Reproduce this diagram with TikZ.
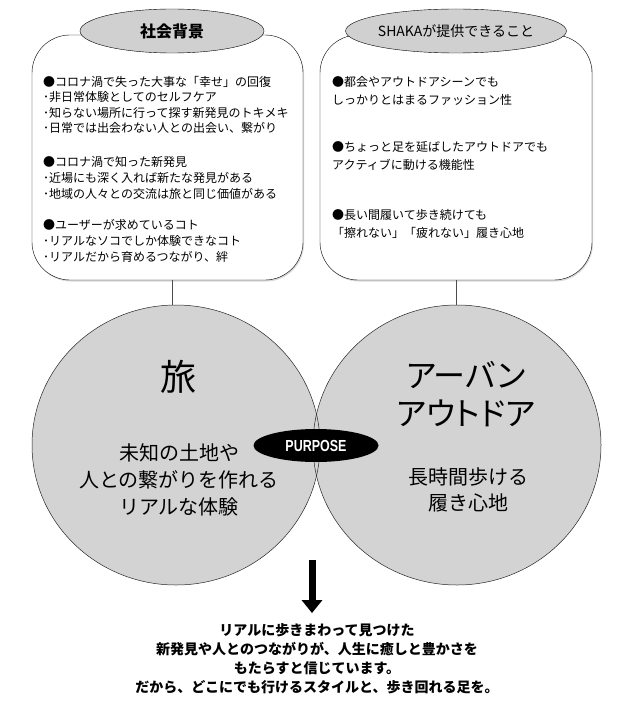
\documentclass[tikz,border=0pt]{standalone}
\usepackage{fontspec}
\setmainfont{Noto Sans CJK JP}
\newfontfamily\propfont[RawFeature=+palt]{Noto Sans CJK JP}
\newfontfamily\condfont[FakeStretch=0.78]{Liberation Sans}
\usetikzlibrary{shapes.geometric,shadows,arrows.meta}

\definecolor{vennfill}{HTML}{D3D3D3}
\definecolor{ovalfill}{HTML}{D0D0D0}

\begin{document}
\begin{tikzpicture}[x=1pt, y=-1pt, thin,
  infobox/.style={draw=black, fill=white, rounded corners=38pt, minimum height=245pt, inner sep=0pt,
    drop shadow={shadow xshift=1pt, shadow yshift=-1.5pt, opacity=0.3}},
  titleoval/.style={ellipse, draw=black, fill=ovalfill, minimum height=44pt, inner sep=0pt},
  venn/.style={ellipse, fill=vennfill, minimum width=288pt, minimum height=280pt, inner sep=0pt},
  vennline/.style={draw=black!85, line width=0.5pt},
  boxtext/.style={anchor=north west, align=left, inner sep=0pt},
  linkline/.style={draw=black!70, line width=0.6pt}]

  \useasboundingbox (0,0) rectangle (624,703);

  % -- Info Boxes --
  \node[infobox, minimum width=271pt] (bgbox) at (167.5,157.5) {};
  \node[infobox, minimum width=272pt] (offerbox) at (456,157.5) {};

  % -- Title Ovals --
  \node[titleoval, minimum width=184pt, font=\bfseries\fontsize{16}{18}\selectfont] (bgtitle) at (172,31) {社会背景};
  \node[titleoval, minimum width=176pt, font=\fontsize{14}{16}\selectfont] (offertitle) at (456,31) {SHAKAが提供できること};

  % -- Box Texts (left) --
  \node[boxtext, font=\fontsize{12}{15.5}\selectfont] (bg1) at (43,76)
    {●コロナ渦で失った大事な「幸せ」の回復\\･非日常体験としてのセルフケア\\･知らない場所に行って探す新発見のトキメキ\\･日常では出会わない人との出会い、繋がり};
  \node[boxtext, font=\fontsize{12}{16}\selectfont] (bg2) at (43,156)
    {●コロナ渦で知った新発見\\･近場にも深く入れば新たな発見がある\\･地域の人々との交流は旅と同じ価値がある};
  \node[boxtext, font=\fontsize{12}{16}\selectfont] (bg3) at (43,219)
    {●ユーザーが求めているコト\\･リアルなソコでしか体験できなコト\\･リアルだから育めるつながり、絆};

  % -- Box Texts (right) --
  \node[boxtext, font=\fontsize{12}{18}\selectfont] (offer1) at (332,76)
    {●都会やアウトドアシーンでも\\しっかりとはまるファッション性};
  \node[boxtext, font=\fontsize{12}{18}\selectfont] (offer2) at (332,141)
    {●ちょっと足を延ばしたアウトドアでも\\アクティブに動ける機能性};
  \node[boxtext, font=\fontsize{12}{18}\selectfont] (offer3) at (332,209)
    {●長い間履いて歩き続けても\\「擦れない」「疲れない」履き心地};

  % -- Venn Circles --
  \node[venn] (tabi) at (176,445) {};
  \node[venn] (urban) at (457,445) {};
  \foreach \n in {tabi,urban}
    \draw[vennline] (\n.center) ellipse [x radius=144pt, y radius=140pt];

  % -- Links --
  \draw[linkline] (bgbox.south -| bgtitle.center) -- (tabi.north -| bgtitle.center);
  \draw[linkline] (offerbox.south -| offertitle.center) -- (urban.north -| offertitle.center);

  % -- Circle Texts --
  \node[font=\fontsize{36}{40}\selectfont] (tabihead) at (178,377) {旅};
  \node[align=center, font=\fontsize{20}{27}\selectfont] (tabidesc) at (179,480)
    {未知の土地や\\人との繋がりを作れる\\リアルな体験};
  \node[align=center, font=\propfont\fontsize{32}{38}\selectfont] (urbanhead) at (466,394)
    {アーバン\\アウトドア};
  \node[align=center, font=\fontsize{20}{26}\selectfont] (urbandesc) at (468,490)
    {長時間歩ける\\履き心地};

  % -- Purpose --
  \node[ellipse, fill=black, minimum width=125pt, minimum height=33pt, inner sep=0pt,
    text=white, font=\condfont\bfseries\fontsize{16}{18}\selectfont] (purpose) at (316,445.5) {PURPOSE};

  % -- Message --
  \node[align=center, inner sep=0pt, font=\bfseries\fontsize{14}{19}\selectfont] (msg) at (317,658.5)
    {リアルに歩きまわって見つけた\\新発見や人とのつながりが、人生に癒しと豊かさを\\もたらすと信じています。\\だから、どこにでも行けるスタイルと、歩き回れる足を。};
  \coordinate (arrowtop) at (312,560);
  \draw[line width=7pt, -{Triangle[width=20pt, length=13pt]}, shorten >=10pt] (arrowtop) -- (arrowtop |- msg.north);

\end{tikzpicture}
\end{document}
